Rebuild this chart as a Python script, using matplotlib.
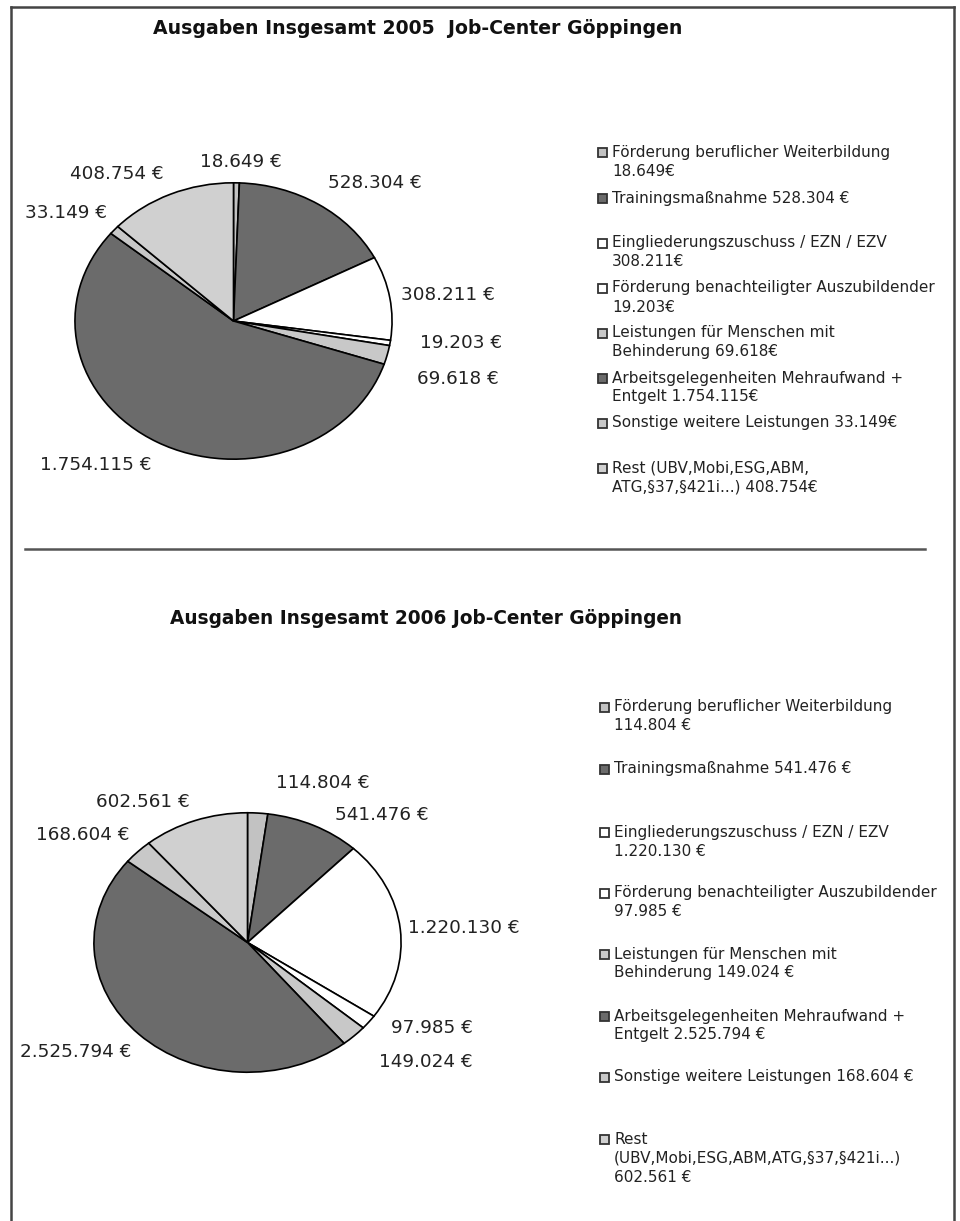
import matplotlib
matplotlib.use("Agg")
import matplotlib.pyplot as plt
from matplotlib.patches import Rectangle
from matplotlib.lines import Line2D

W, H = 960, 1221

# categories (same order in both years, clockwise from 12 o'clock)
categories = ["Förderung beruflicher Weiterbildung", "Trainingsmaßnahme",
              "Eingliederungszuschuss / EZN / EZV", "Förderung benachteiligter Auszubildender",
              "Leistungen für Menschen mit Behinderung", "Arbeitsgelegenheiten Mehraufwand + Entgelt",
              "Sonstige weitere Leistungen", "Rest (UBV,Mobi,ESG,ABM,ATG,§37,§421i...)"]
values_2005 = [18649, 528304, 308211, 19203, 69618, 1754115, 33149, 408754]
values_2006 = [114804, 541476, 1220130, 97985, 149024, 2525794, 168604, 602561]
colors = ["#c2c2c2", "#6b6b6b", "#ffffff", "#ffffff", "#c8c8c8", "#6b6b6b", "#c8c8c8", "#d0d0d0"]

legend_2005 = ["Förderung beruflicher Weiterbildung\n18.649€", "Trainingsmaßnahme 528.304 €",
               "Eingliederungszuschuss / EZN / EZV\n308.211€", "Förderung benachteiligter Auszubildender\n19.203€",
               "Leistungen für Menschen mit\nBehinderung 69.618€", "Arbeitsgelegenheiten Mehraufwand +\nEntgelt 1.754.115€",
               "Sonstige weitere Leistungen 33.149€", "Rest (UBV,Mobi,ESG,ABM,\nATG,§37,§421i...) 408.754€"]
legend_2006 = ["Förderung beruflicher Weiterbildung\n114.804 €", "Trainingsmaßnahme 541.476 €",
               "Eingliederungszuschuss / EZN / EZV\n1.220.130 €", "Förderung benachteiligter Auszubildender\n97.985 €",
               "Leistungen für Menschen mit\nBehinderung 149.024 €", "Arbeitsgelegenheiten Mehraufwand +\nEntgelt 2.525.794 €",
               "Sonstige weitere Leistungen 168.604 €", "Rest\n(UBV,Mobi,ESG,ABM,ATG,§37,§421i...)\n602.561 €"]


def fmt(v):
    return "{:,}".format(v).replace(",", ".") + " €"


def fx(x):
    return x / W


def fy(y):
    return 1 - y / H


fig = plt.figure(figsize=(W / 100, H / 100), dpi=100)
plt.rcParams['font.family'] = 'DejaVu Sans'

# frame and separator
for xs, ys in [([11, 11], [7, H]), ([11, 954], [7, 7]), ([954, 954], [7, H])]:
    fig.add_artist(Line2D([fx(a) for a in xs], [fy(b) for b in ys], color="#444444", lw=1.8))
fig.add_artist(Line2D([fx(25), fx(925)], [fy(549), fy(549)], color="#555555", lw=1.8))


def draw_pie(box, values, label_pos, legend, leg_x, leg_y, title, title_pos, title_size):
    x0, y0, w, h = box
    ax = fig.add_axes([fx(x0), fy(y0 + h), w / W, h / H])
    ax.pie(values, colors=colors, startangle=90, counterclock=False,
           wedgeprops=dict(edgecolor="black", linewidth=1.2))
    ax.set_aspect("auto")
    ax.set_xlim(-1.006, 1.006)
    ax.set_ylim(-1.006, 1.006)
    ax.axis("off")
    for v, (px, py) in zip(values, label_pos):
        fig.text(fx(px), fy(py), fmt(v), ha="center", va="center", fontsize=13.2, color="#222222")
    fig.text(fx(title_pos[0]), fy(title_pos[1]), title, ha="left", va="center",
             fontsize=title_size, fontweight="bold", color="#111111")
    for i, (txt, ly) in enumerate(zip(legend, leg_y)):
        fig.add_artist(Rectangle((fx(leg_x - 14), fy(ly + 4.5)), 9 / W, 9 / H, transform=fig.transFigure,
                                 facecolor=colors[i], edgecolor="#333333", lw=1.3))
        for j, line in enumerate(txt.split("\n")):
            fig.text(fx(leg_x), fy(ly + 19 * j), line, ha="left", va="center",
                     fontsize=11, color="#222222")


draw_pie((74, 182, 319, 278), values_2005,
         [(241, 162), (375, 183), (448, 295), (461, 343), (458, 379), (96, 465), (66, 213), (117, 174)],
         legend_2005, 612, [152, 198, 243, 288, 333, 378, 423, 468],
         "Ausgaben Insgesamt 2005  Job-Center Göppingen", (153, 28), 13.6)

draw_pie((93, 812, 309, 261), values_2006,
         [(323, 783), (382, 815), (464, 928), (432, 1028), (426, 1062), (76, 1052), (83, 835), (143, 802)],
         legend_2006, 614, [707, 769, 832, 893, 954, 1016, 1077, 1139],
         "Ausgaben Insgesamt 2006 Job-Center Göppingen", (170, 619), 13.35)

fig.savefig("out.png", dpi=100, facecolor="white")
